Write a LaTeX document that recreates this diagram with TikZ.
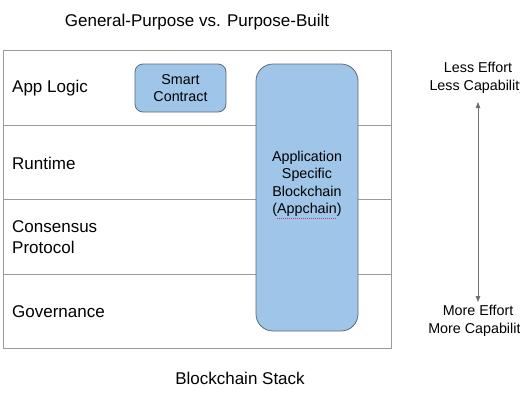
\documentclass[tikz,border=0pt]{standalone}
\usepackage{fontspec}
\setmainfont{Liberation Sans}
\usetikzlibrary{arrows.meta}
\definecolor{boxblue}{HTML}{9FC5E8}
\definecolor{boxedge}{HTML}{5F6B75}
\definecolor{gridline}{HTML}{9A9A9A}
\definecolor{arrowgray}{HTML}{707070}
\definecolor{spellred}{HTML}{D0306A}
\tikzset{
  rowlabel/.style={anchor=west,align=left,font=\fontsize{17}{20}\selectfont,inner sep=0pt},
  bluebox/.style={draw=boxedge,fill=boxblue,line width=0.8pt},
  boxtext/.style={align=center,font=\fontsize{14.3}{17.5}\selectfont,inner sep=0pt},
  sidetext/.style={align=center,font=\fontsize{14.3}{17.5}\selectfont,inner sep=0pt},
  bigtext/.style={font=\fontsize{17}{20}\selectfont,inner sep=0pt}
}
\begin{document}
\begin{tikzpicture}[x=1pt,y=-1pt]
\useasboundingbox (0,0) rectangle (520,400);
\fill[white] (0,0) rectangle (520,400);
% title
\node[bigtext] (title) at (197,22) {General-Purpose vs. Purpose-Built};
\node[bigtext] (stack) at (240,378) {Blockchain Stack};
% outer box and rows
\draw[gridline,line width=0.8pt] (3,50) rectangle (391,348);
\draw[gridline,line width=0.8pt] (3,125) -- (391,125);
\draw[gridline,line width=0.8pt] (3,199) -- (391,199);
\draw[gridline,line width=0.8pt] (3,274) -- (391,274);
% row labels
\node[rowlabel] (applogic) at (12,88) {App Logic};
\node[rowlabel] (runtime) at (12,163) {Runtime};
\node[rowlabel,font=\fontsize{17}{20.5}\selectfont] (consensus) at (12,237) {Consensus\\Protocol};
\node[rowlabel] (governance) at (12,312) {Governance};
% blue boxes
\draw[bluebox,rounded corners=8pt] (135,64) rectangle (226,112);
\node[boxtext,font=\fontsize{14.3}{17}\selectfont] (smart) at (180.5,88) {Smart\\Contract};
\draw[bluebox,rounded corners=17pt] (256,64) rectangle (358,331);
\node[boxtext] (appchain) at (307,184) {Application\\Specific\\Blockchain\\(Appchain)};
\draw[spellred,line width=0.7pt,dash pattern=on 1pt off 1pt] (277,218.5) -- (336,218.5);
% right side
\node[sidetext] (less) at (478,78) {Less Effort\\Less Capability};
\node[sidetext] (more) at (478,321) {More Effort\\More Capability};
\draw[{Triangle[length=6pt,width=4.5pt]}-{Triangle[length=6pt,width=4.5pt]},draw=arrowgray,fill=arrowgray,line width=0.8pt] (478,102) -- (478,302);
\end{tikzpicture}
\end{document}
